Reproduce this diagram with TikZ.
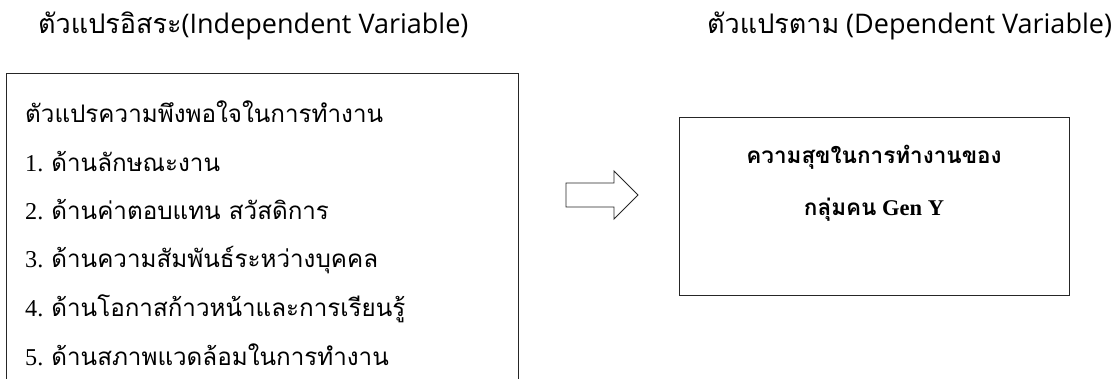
\documentclass[tikz,border=0pt]{standalone}
\usepackage{fontspec}
\setmainfont{Liberation Serif}
\newfontfamily\thai[Script=Thai]{Loma}
\newfontfamily\ttl[Script=Thai]{Loma}
\newfontfamily\lsans{Open Sans}
\tikzset{
  boxline/.style={draw=black!85, line width=1.1pt},
  titletext/.style={anchor=base west, inner sep=0pt, font=\fontsize{27}{32}\selectfont},
  itemtext/.style={anchor=base west, inner sep=0pt, font=\fontsize{24.2}{28}\selectfont},
  dvtext/.style={anchor=base, inner sep=0pt, font=\fontsize{22.5}{26}\selectfont\bfseries},
}
\begin{document}
\begin{tikzpicture}[x=1pt,y=-1pt]
\useasboundingbox (0,0) rectangle (1116,378);
\clip (0,0) rectangle (1116,378);
% titles
\node[titletext] (tl) at (38,33) {{\ttl ตัวแปรอิสระ}{\lsans (Independent Variable)}};
\node[titletext] (tr) at (707,33) {{\ttl ตัวแปรตาม} {\lsans (Dependent Variable)}};
% left box
\node[boxline, anchor=north west, minimum width=512pt, minimum height=340pt, inner sep=0pt] (iv) at (6,73) {};
\node[itemtext] (h)  at (25,122) {\thai ตัวแปรความพึงพอใจในการทำงาน};
\node[itemtext] (l1) at (25,171) {1. {\thai ด้านลักษณะงาน}};
\node[itemtext] (l2) at (25,219) {2. {\thai ด้านค่าตอบแทน สวัสดิการ}};
\node[itemtext] (l3) at (25,267) {3. {\thai ด้านความสัมพันธ์ระหว่างบุคคล}};
\node[itemtext] (l4) at (25,316) {4. {\thai ด้านโอกาสก้าวหน้าและการเรียนรู้}};
\node[itemtext] (l5) at (25,365) {5. {\thai ด้านสภาพแวดล้อมในการทำงาน}};
% right box
\node[boxline, anchor=north west, minimum width=390pt, minimum height=178pt, inner sep=0pt] (dv) at (679,117) {};
\node[dvtext] (d1) at (874,163) {\thai ความสุขในการทำงานของ};
\node[dvtext] (d2) at (874,215) {{\thai กลุ่มคน} Gen Y};
% block arrow
\draw[boxline, line width=0.9pt, line join=miter]
  (566,183) -- (614,183) -- (614,171) -- (638,195) -- (614,219) -- (614,207) -- (566,207) -- cycle;
\end{tikzpicture}
\end{document}
